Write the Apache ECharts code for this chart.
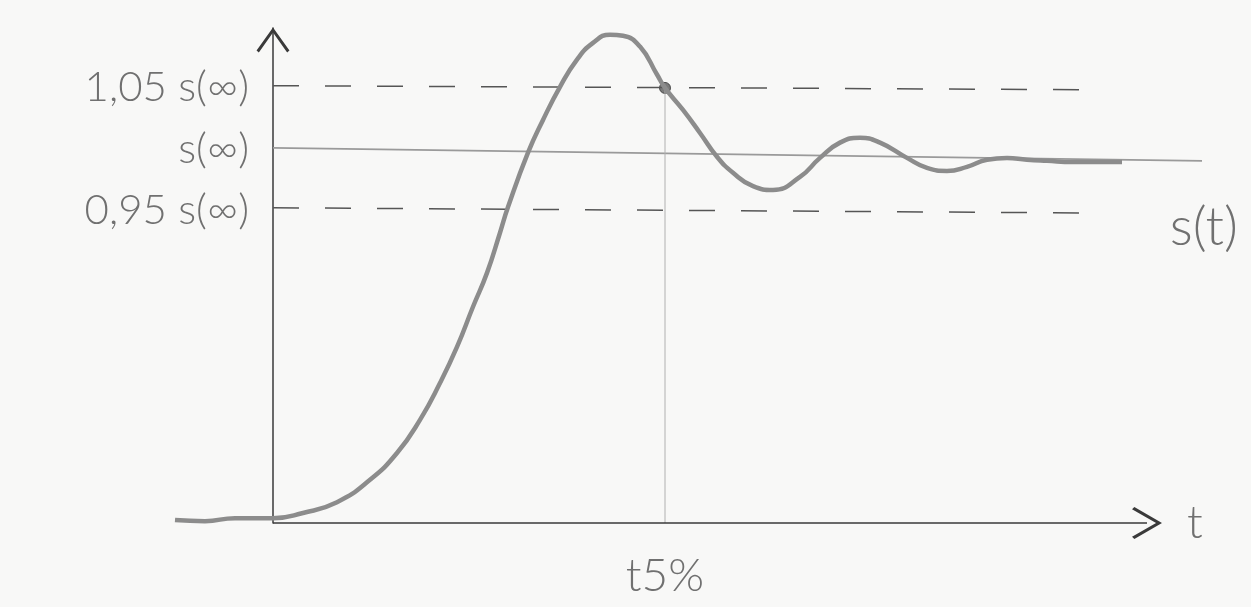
<!DOCTYPE html>
<html>
<head>
<meta charset="utf-8">
<script src="https://cdn.jsdelivr.net/npm/echarts@6/dist/echarts.min.js"></script>
<style>
html,body{margin:0;padding:0;background:#f8f8f7;}
#chart{width:1251px;height:607px;}
</style>
</head>
<body>
<div id="chart"></div>
<script>
// Step response s(t) as sketched (time t, response in units where s(inf) ~ 1)
const tValues = [-0.98,-0.68,-0.38,0,0.30,0.64,0.97,1.24,1.47,1.67,1.84,2.00,2.14,2.27,2.35,2.55,2.70,2.87,3.04,3.20,3.37,3.50,3.67,3.84,3.92,4.10,4.27,4.44,4.60,4.80,5.00,5.27,5.47,5.67,5.87,6.07,6.34,6.54,6.74,6.94,7.14,7.34,7.54,7.74,8.00,8.49];
const sValues = [0.008,0.005,0.013,0.013,0.027,0.056,0.116,0.188,0.277,0.376,0.473,0.581,0.672,0.780,0.849,0.995,1.083,1.172,1.245,1.290,1.312,1.309,1.280,1.205,1.169,1.110,1.048,0.984,0.941,0.905,0.895,0.930,0.981,1.022,1.035,1.022,0.981,0.954,0.946,0.957,0.976,0.981,0.976,0.973,0.970,0.970];

// reference levels (as drawn)
const steadyT = [0, 9.29];
const steadyS = [1.008, 0.973];
const upperT = [0, 8.32];
const upperS = [1.175, 1.164];
const lowerT = [0, 8.20];
const lowerS = [0.847, 0.833];

// time axis drawn as an arrow from t = 0
const timeAxisT = [0, 8.74];

// settling time t5%
const t5 = 3.92;
const t5Level = 1.169;

// tick labels
const levelValues = [0.841, 1.003, 1.169];
const levelLabels = ['0,95 s(∞)', 's(∞)', '1,05 s(∞)'];
const xTickValues = [t5];
const xTickLabels = ['t5%'];

const zip = (a, b) => a.map((v, i) => [v, b[i]]);

const chevron = 'path://M10,0 L20,14 L18.6,15.2 L10,3 L1.4,15.2 L0,14 Z';
const fontFam = 'Lato, "Open Sans", sans-serif';
const textCol = '#707070';

const chart = echarts.init(document.getElementById('chart'));
chart.setOption({
  backgroundColor: '#f8f8f7',
  animation: false,
  title: {
    text: 's(t)',
    right: 8,
    top: 196,
    textStyle: {fontFamily: fontFam, fontWeight: 300, fontSize: 54, color: textCol}
  },
  grid: {left: 175, right: 43, top: 28, bottom: 84, outerBoundsMode: 'none', containLabel: false},
  xAxis: {
    type: 'value',
    min: -0.98,
    max: 9.35,
    splitLine: {show: false},
    axisTick: {show: false},
    axisLine: {show: false},
    axisLabel: {
      customValues: xTickValues,
      formatter: (v) => xTickLabels[xTickValues.indexOf(v)] || '',
      margin: 30,
      fontFamily: fontFam,
      fontWeight: 300,
      fontSize: 46,
      color: textCol
    }
  },
  yAxis: {
    type: 'value',
    min: 0,
    max: 1.33,
    offset: -98,
    splitLine: {show: false},
    axisTick: {show: false},
    axisLine: {
      show: true,
      onZero: false,
      symbol: ['none', chevron],
      symbolSize: [34, 25],
      symbolOffset: [0, -12],
      lineStyle: {color: '#3a3a3a', width: 1.5}
    },
    axisLabel: {
      customValues: levelValues,
      formatter: (v) => {
        let best = 0;
        levelValues.forEach((lv, i) => { if (Math.abs(lv - v) < Math.abs(levelValues[best] - v)) best = i; });
        return levelLabels[best];
      },
      margin: 24,
      fontFamily: fontFam,
      fontWeight: 300,
      fontSize: 42,
      color: textCol
    }
  },
  series: [
    {
      type: 'line', name: 'steady', data: zip(steadyT, steadyS),
      symbol: 'none', lineStyle: {color: '#9a9a9a', width: 1.6}, silent: true,
      markLine: {
        silent: true,
        symbol: ['none', chevron],
        symbolSize: [32, 30],
        lineStyle: {color: '#3a3a3a', width: 1.5, type: 'solid'},
        label: {
          show: true, position: 'end', formatter: 't', distance: 40,
          fontFamily: fontFam, fontWeight: 300, fontSize: 46, color: textCol
        },
        emphasis: {disabled: true},
        data: [[{coord: [timeAxisT[0], 0]}, {coord: [timeAxisT[1], 0]}]]
      }
    },
    {
      type: 'line', name: 'upper', data: zip(upperT, upperS),
      symbol: 'none', lineStyle: {color: '#555', width: 1.5, type: [26, 26]}, silent: true
    },
    {
      type: 'line', name: 'lower', data: zip(lowerT, lowerS),
      symbol: 'none', lineStyle: {color: '#555', width: 1.5, type: [26, 26]}, silent: true
    },
    {
      type: 'line', name: 't5', data: [[t5, 0], [t5, t5Level]],
      symbol: 'none', lineStyle: {color: '#b0b0b0', width: 1}, silent: true
    },
    {
      type: 'line', name: 's(t)', data: zip(tValues, sValues),
      smooth: 0.5, symbol: 'none',
      lineStyle: {color: '#8c8c8c', width: 4.5}, silent: true
    },
    {
      type: 'scatter', name: 'dot', data: [[t5, t5Level]],
      symbolSize: 11, itemStyle: {color: '#5a5a5a', borderColor: '#333', borderWidth: 1}, silent: true
    }
  ]
});
</script>
</body>
</html>
